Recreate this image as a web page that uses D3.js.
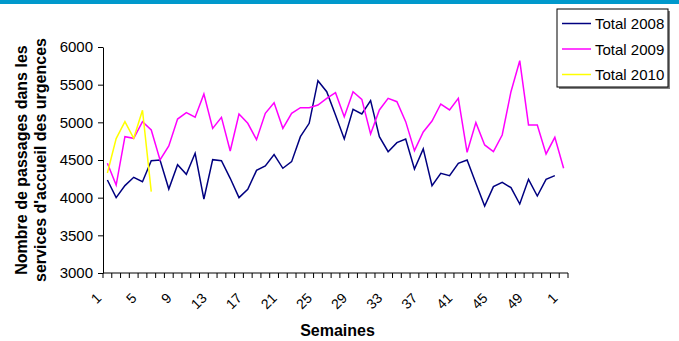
<!DOCTYPE html>
<html>
<head>
<meta charset="utf-8">
<script src="https://cdnjs.cloudflare.com/ajax/libs/d3/7.8.5/d3.min.js"></script>
<style>
  html, body { margin: 0; padding: 0; background: #fff; }
  svg { display: block; font-family: "Liberation Sans", Arial, sans-serif; }
</style>
</head>
<body>
<svg id="chart" width="679" height="341"></svg>
<script>
// Week categories: 52 weeks, then week 1 of the following year
const weeks = d3.range(1, 53).map(String).concat(["1"]);

// Weekly emergency department visits
const total2008 = [4234, 4000, 4160, 4270, 4212, 4490, 4500, 4115, 4438, 4310,
  4589, 3982, 4504, 4490, 4257, 4000, 4111, 4362, 4420, 4571,
  4390, 4478, 4810, 4987, 5553, 5407, 5097, 4779, 5173, 5111,
  5288, 4810, 4610, 4730, 4779, 4381, 4648, 4159, 4323, 4292,
  4456, 4500, 4191, 3889, 4146, 4204, 4133, 3916, 4244, 4022,
  4244, 4292];

const total2009 = [4456, 4168, 4810, 4788, 5009, 4898, 4500, 4686, 5044, 5128,
  5067, 5376, 4920, 5067, 4619, 5111, 4987, 4770, 5120, 5261,
  4920, 5120, 5195, 5195, 5230, 5319, 5394, 5075, 5407, 5305,
  4845, 5164, 5319, 5274, 5009, 4624, 4872, 5018, 5243, 5164,
  5319, 4602, 4996, 4700, 4610, 4832, 5407, 5818, 4965, 4965,
  4580, 4801, 4390];

const total2010 = [4328, 4784, 5009, 4788, 5160, 4080];

const yTicks = [3000, 3500, 4000, 4500, 5000, 5500, 6000];
const xLabelEvery = 4;

const seriesNames = ["Total 2008", "Total 2009", "Total 2010"];
const seriesColors = ["#000080", "#FF00FF", "#FFFF00"];
const seriesData = [total2008, total2009, total2010];

const svg = d3.select("#chart");

// Top banner strip
svg.append("rect").attr("x", 0).attr("y", 0).attr("width", 679).attr("height", 4)
  .attr("fill", "#0099CC");

const plotLeft = 103, plotRight = 568, plotTop = 47, plotBottom = 273;

const x = d3.scaleBand().domain(d3.range(weeks.length)).range([plotLeft, plotRight]).padding(0);
const cx = i => x(i) + x.bandwidth() / 2;
const y = d3.scaleLinear().domain([3000, 6000]).range([plotBottom, plotTop]);

// Y axis
const yAxis = d3.axisLeft(y).tickValues(yTicks).tickFormat(d3.format("d"))
  .tickSize(5).tickSizeOuter(0).tickPadding(5);
const yg = svg.append("g").attr("transform", `translate(${plotLeft},0)`).call(yAxis);
yg.select(".domain").attr("stroke", "#000").attr("stroke-width", 1);
yg.selectAll(".tick line").attr("stroke", "#000");
yg.selectAll(".tick text").attr("font-size", 15).attr("fill", "#000")
  .attr("font-family", "'Liberation Sans', Arial, sans-serif");

// X axis line and tick marks between categories
svg.append("line").attr("x1", plotLeft).attr("x2", plotRight)
  .attr("y1", plotBottom).attr("y2", plotBottom)
  .attr("stroke", "#000");
const boundaries = d3.range(weeks.length).map(i => x(i))
  .concat([x(weeks.length - 1) + x.bandwidth()]);
svg.append("g").selectAll("line").data(boundaries).join("line")
  .attr("x1", d => d).attr("x2", d => d)
  .attr("y1", plotBottom).attr("y2", plotBottom + 5)
  .attr("stroke", "#000");

// Rotated week labels
svg.append("g").selectAll("text")
  .data(d3.range(0, weeks.length, xLabelEvery))
  .join("text")
  .attr("transform", i => `translate(${cx(i) - 5},${plotBottom + 26}) rotate(-45)`)
  .attr("text-anchor", "end")
  .attr("font-size", 14)
  .attr("fill", "#000")
  .text(i => weeks[i]);

// Lines
const line = d3.line().x((d, i) => cx(i)).y(d => y(d));
seriesData.forEach((data, k) => {
  svg.append("path").datum(data)
    .attr("fill", "none")
    .attr("stroke", seriesColors[k])
    .attr("stroke-width", 1.5)
    .attr("stroke-linejoin", "miter")
    .attr("d", line);
});

// Axis titles
svg.append("text")
  .attr("x", (plotLeft + plotRight) / 2 + 2).attr("y", 336)
  .attr("text-anchor", "middle").attr("font-weight", "bold").attr("font-size", 16)
  .text("Semaines");

const yTitle = svg.append("text")
  .attr("transform", "translate(0,160) rotate(-90)")
  .attr("text-anchor", "middle").attr("font-weight", "bold").attr("font-size", 16);
yTitle.append("tspan").attr("x", 0).attr("y", 27).text("Nombre de passages dans les");
yTitle.append("tspan").attr("x", 0).attr("y", 46).text("services d'accueil des urgences");

// Legend
const lg = svg.append("g");
lg.append("rect").attr("x", 559).attr("y", 11).attr("width", 111).attr("height", 78)
  .attr("fill", "#808080");
lg.append("rect").attr("x", 557).attr("y", 9).attr("width", 111).attr("height", 78)
  .attr("fill", "#fff").attr("stroke", "#000").attr("stroke-width", 1);
seriesNames.forEach((name, k) => {
  const ly = 23.5 + k * 25.5;
  lg.append("line").attr("x1", 562).attr("x2", 591).attr("y1", ly).attr("y2", ly)
    .attr("stroke", seriesColors[k]).attr("stroke-width", 1.5);
  lg.append("text").attr("x", 595).attr("y", ly + 5.5)
    .attr("font-size", 15).attr("fill", "#000").text(name);
});
</script>
</body>
</html>
